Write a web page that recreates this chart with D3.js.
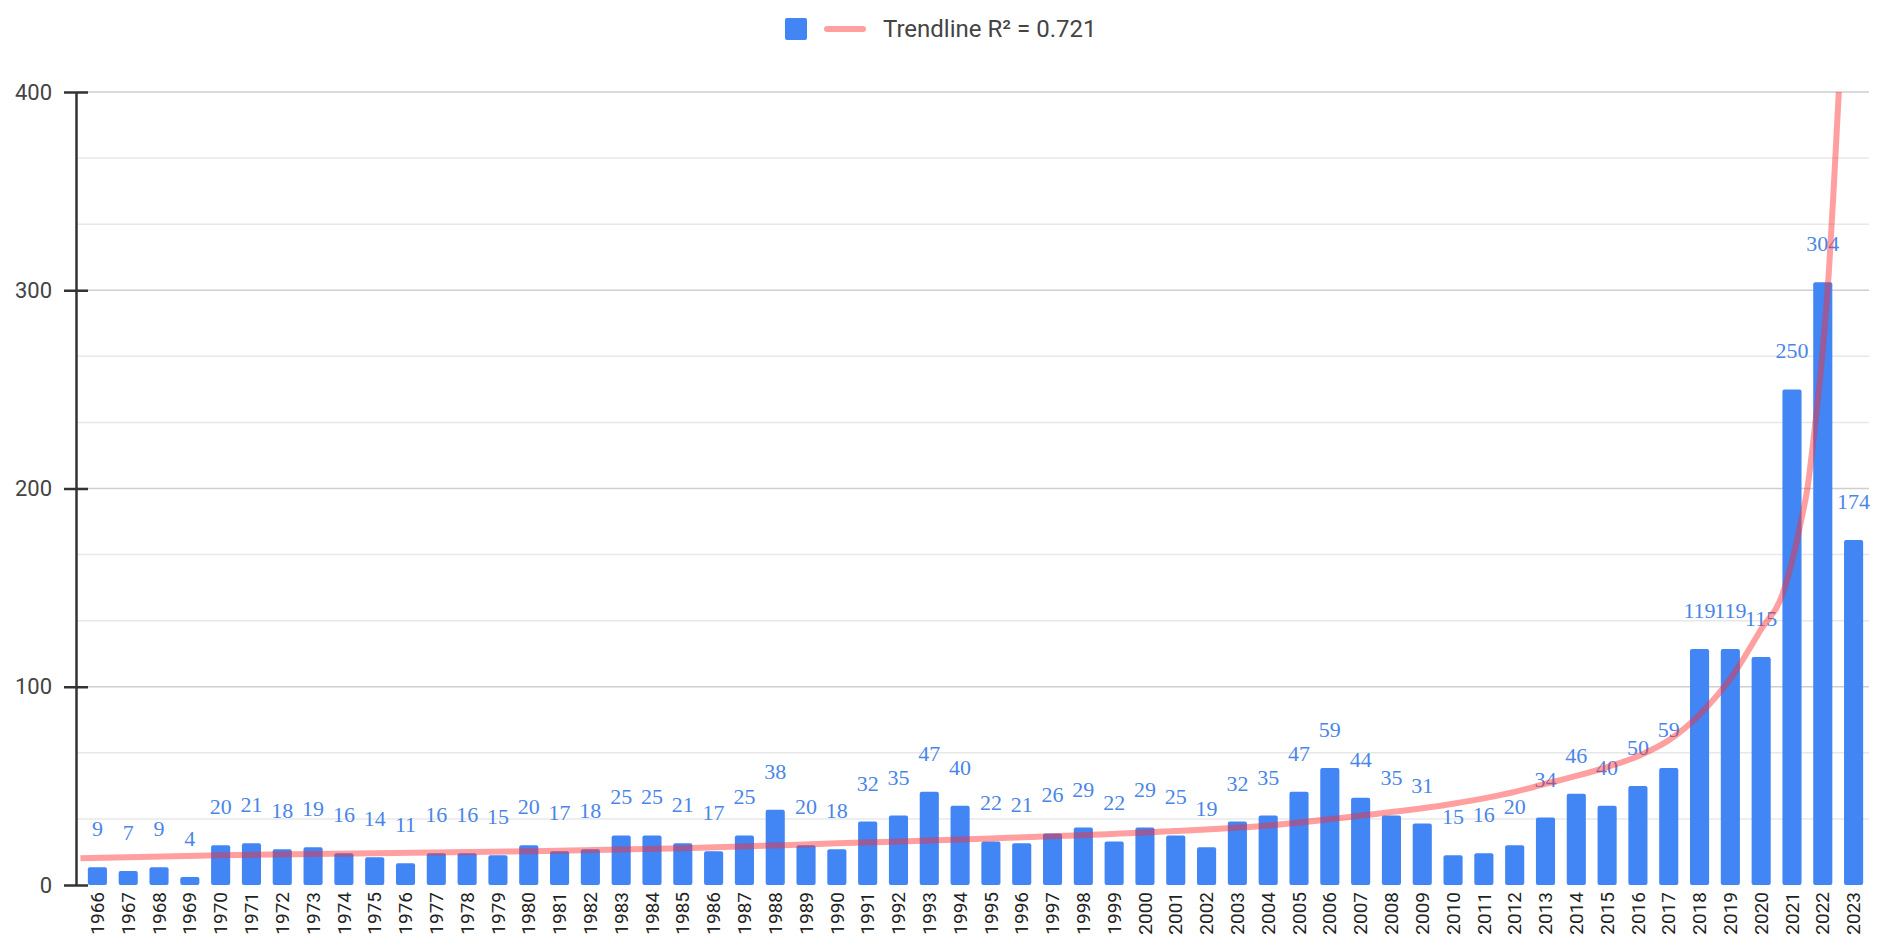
<!DOCTYPE html>
<html>
<head>
<meta charset="utf-8">
<script src="https://cdn.jsdelivr.net/npm/d3@7"></script>
<style>
  body { margin: 0; background: #fff; }
  svg { display: block; }
</style>
</head>
<body>
<script>
const width = 1877;
const height = 951;

const margin = { left: 82, right: 8, top: 92, bottom: 66 };

// data
const years = d3.range(1966, 2024).map(String);
const counts = [9, 7, 9, 4, 20, 21, 18, 19, 16, 14, 11, 16, 16, 15, 20, 17, 18, 25, 25, 21,
  17, 25, 38, 20, 18, 32, 35, 47, 40, 22, 21, 26, 29, 22, 29, 25, 19, 32, 35, 47,
  59, 44, 35, 31, 15, 16, 20, 34, 46, 40, 50, 59, 119, 119, 115, 250, 304, 174];
const trendYears = [1965.45, 1970, 1975, 1980, 1985, 1990, 1995, 2000, 2004, 2007, 2010, 2012,
  2013, 2014, 2015, 2016, 2017, 2018, 2019, 2020, 2020.7, 2021, 2021.3, 2021.5, 2021.7,
  2022, 2022.2, 2022.35, 2022.52];
const trendValues = [13.5, 15, 16, 17, 18.5, 21, 23.5, 26.5, 30, 35, 41, 47,
  51, 55, 59.5, 65, 73, 86, 104, 129, 147, 163, 184, 200, 225, 270, 310, 350, 400];
const yTicks = [0, 100, 200, 300, 400];
const legendLabel = "Trendline R² = 0.721";

const svg = d3.select("body").append("svg")
  .attr("width", width)
  .attr("height", height);

const xScale = d3.scaleBand()
  .domain(years)
  .range([margin.left, width - margin.right])
  .paddingInner(0.38)
  .paddingOuter(0.19);

const yScale = d3.scaleLinear()
  .domain([0, 400])
  .range([height - margin.bottom, margin.top]);

// year -> pixel for the trendline (centre of each band)
const half = xScale.bandwidth() / 2;
const xYear = d3.scaleLinear()
  .domain([1966, 2023])
  .range([xScale("1966") + half, xScale("2023") + half]);

// gridlines (major + two minor per step)
const gridVals = d3.range(0, 401, 100 / 3).filter(v => v > 0.5);
svg.append("g")
  .selectAll("line")
  .data(gridVals)
  .join("line")
  .attr("x1", margin.left - 6)
  .attr("x2", width - margin.right)
  .attr("y1", d => yScale(d))
  .attr("y2", d => yScale(d))
  .attr("stroke", d => Math.abs(d % 100) < 0.5 || Math.abs(d % 100 - 100) < 0.5 ? "#cfcfcf" : "#e8e8e8")
  .attr("stroke-width", 1.5);

// bars
svg.append("g")
  .selectAll("rect")
  .data(counts)
  .join("rect")
  .attr("x", (d, i) => xScale(years[i]))
  .attr("y", d => yScale(d))
  .attr("width", xScale.bandwidth())
  .attr("height", d => yScale(0) - yScale(d))
  .attr("rx", 2)
  .attr("fill", "#4285f4");

// data labels
svg.append("g")
  .selectAll("text")
  .data(counts)
  .join("text")
  .attr("x", (d, i) => xScale(years[i]) + half)
  .attr("y", d => yScale(d) - 31)
  .attr("text-anchor", "middle")
  .style("font-family", "'Liberation Serif', 'DejaVu Serif', serif")
  .style("font-size", "22px")
  .attr("fill", "#4a86e8")
  .text(d => d);

// trendline
const trend = trendYears.map((t, i) => [t, trendValues[i]]);
svg.append("path")
  .datum(trend)
  .attr("fill", "none")
  .attr("stroke", "#ff2a2a")
  .attr("stroke-opacity", 0.45)
  .attr("stroke-width", 6)
  .attr("d", d3.line()
    .x(d => xYear(d[0]))
    .y(d => yScale(d[1]))
    .curve(d3.curveMonotoneX));

// axes
const yAxis = svg.append("g")
  .attr("transform", `translate(${margin.left - 6},0)`)
  .call(d3.axisLeft(yScale).tickValues(yTicks).tickSize(12).tickSizeOuter(0));
yAxis.select(".domain").attr("stroke", "#333").attr("stroke-width", 2.5);
yAxis.selectAll(".tick line")
  .attr("x2", 12).attr("x1", -12)
  .attr("stroke", "#333").attr("stroke-width", 2.5);
yAxis.selectAll(".tick text")
  .attr("x", -24)
  .style("font-family", "Roboto, Arial, sans-serif")
  .style("font-size", "22px")
  .attr("fill", "#444");

const xAxis = svg.append("g")
  .attr("transform", `translate(0,${yScale(0)})`)
  .call(d3.axisBottom(xScale).tickSize(0));
xAxis.select(".domain").remove();
xAxis.selectAll(".tick text")
  .attr("transform", "rotate(-90)")
  .attr("x", -7)
  .attr("y", 0)
  .attr("dy", "0.35em")
  .attr("text-anchor", "end")
  .style("font-family", "Roboto, Arial, sans-serif")
  .style("font-size", "19px")
  .attr("fill", "#222");

// legend
const legend = svg.append("g").attr("transform", "translate(785,18)");
legend.append("rect")
  .attr("width", 22).attr("height", 22).attr("rx", 2)
  .attr("fill", "#4285f4");
legend.append("line")
  .attr("x1", 42).attr("x2", 78)
  .attr("y1", 11).attr("y2", 11)
  .attr("stroke", "#ff2a2a").attr("stroke-opacity", 0.45)
  .attr("stroke-width", 6).attr("stroke-linecap", "round");
legend.append("text")
  .attr("x", 98).attr("y", 11).attr("dy", "0.35em")
  .style("font-family", "Roboto, Arial, sans-serif")
  .style("font-size", "24px")
  .attr("fill", "#444")
  .text(legendLabel);
</script>
</body>
</html>
